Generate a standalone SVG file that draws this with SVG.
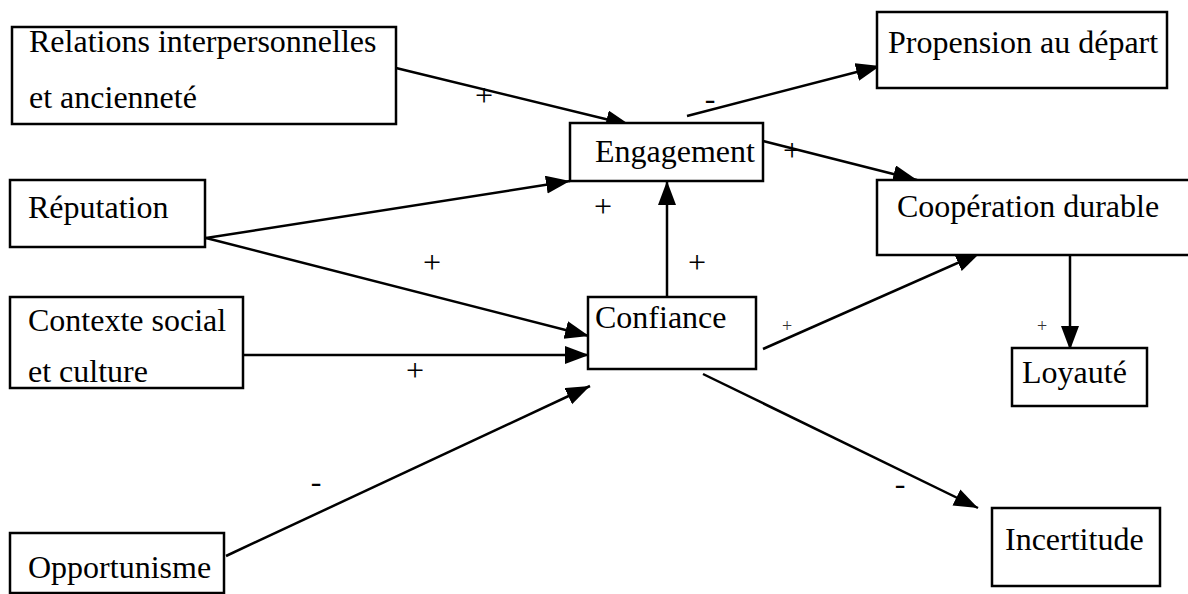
<svg xmlns="http://www.w3.org/2000/svg" width="1188" height="594" viewBox="0 0 1188 594">
<style>
.box{fill:#fff;stroke:#000;stroke-width:2.5}
.t{font-family:"Liberation Serif","Times New Roman",serif;font-size:32px;fill:#000}
.s{font-family:"Liberation Serif","Times New Roman",serif;font-size:18px;fill:#333}
.c{stroke:#000;stroke-width:2.5;fill:none;marker-end:url(#ah)}
</style>
<defs>
<marker id="ah" markerUnits="userSpaceOnUse" markerWidth="26" markerHeight="20" refX="24" refY="9" orient="auto" viewBox="0 0 26 20">
<path d="M0,0 L24,9 L0,18 z" fill="#000"/>
</marker>
</defs>
<rect width="1188" height="594" fill="#fff"/>
<g id="connectors">
<line class="c" x1="396" y1="68" x2="630" y2="125"/>
<line class="c" x1="687" y1="116" x2="880" y2="66"/>
<line class="c" x1="763" y1="141" x2="917" y2="180"/>
<line class="c" x1="206" y1="238" x2="570" y2="181"/>
<line class="c" x1="206" y1="238" x2="589" y2="336"/>
<line class="c" x1="667" y1="297" x2="667" y2="181"/>
<line class="c" x1="243" y1="355" x2="589" y2="355"/>
<line class="c" x1="226" y1="556" x2="590" y2="386"/>
<line class="c" x1="763" y1="349" x2="980" y2="253"/>
<line class="c" x1="1070" y1="255" x2="1070" y2="350"/>
<line class="c" x1="703" y1="374" x2="978" y2="508"/>
<text class="t" x="484" y="106" text-anchor="middle">+</text>
<text class="t" x="710" y="109" text-anchor="middle">-</text>
<text class="t" x="792" y="161" text-anchor="middle">+</text>
<text class="t" x="603" y="217" text-anchor="middle">+</text>
<text class="t" x="432" y="273" text-anchor="middle">+</text>
<text class="t" x="697" y="273" text-anchor="middle">+</text>
<text class="t" x="415" y="381" text-anchor="middle">+</text>
<text class="t" x="316" y="492" text-anchor="middle">-</text>
<text class="s" x="787" y="332" text-anchor="middle">+</text>
<text class="s" x="1042" y="332" text-anchor="middle">+</text>
<text class="t" x="900" y="494" text-anchor="middle">-</text>
</g>
<g id="relations">
<rect class="box" x="12" y="27" width="384" height="97"/>
<text class="t" x="29" y="52">Relations interpersonnelles</text>
<text class="t" x="29" y="108">et ancienneté</text>
</g>
<g id="propension">
<rect class="box" x="877" y="12" width="290" height="76"/>
<text class="t" x="888" y="53">Propension au départ</text>
</g>
<g id="engagement">
<rect class="box" x="570" y="123" width="193" height="58"/>
<text class="t" x="595" y="162">Engagement</text>
</g>
<g id="reputation">
<rect class="box" x="10" y="180" width="195" height="67"/>
<text class="t" x="28" y="218">Réputation</text>
</g>
<g id="cooperation">
<rect class="box" x="877" y="180" width="313" height="75"/>
<text class="t" x="897" y="217">Coopération durable</text>
</g>
<g id="contexte">
<rect class="box" x="10" y="297" width="233" height="91"/>
<text class="t" x="28" y="331">Contexte social</text>
<text class="t" x="28" y="382">et culture</text>
</g>
<g id="confiance">
<rect class="box" x="588" y="297" width="168" height="72"/>
<text class="t" x="595" y="328">Confiance</text>
</g>
<g id="loyaute">
<rect class="box" x="1012" y="348" width="135" height="58"/>
<text class="t" x="1022" y="383">Loyauté</text>
</g>
<g id="opportunisme">
<rect class="box" x="10" y="533" width="214" height="60"/>
<text class="t" x="28" y="578">Opportunisme</text>
</g>
<g id="incertitude">
<rect class="box" x="992" y="508" width="168" height="78"/>
<text class="t" x="1005" y="550">Incertitude</text>
</g>
</svg>
